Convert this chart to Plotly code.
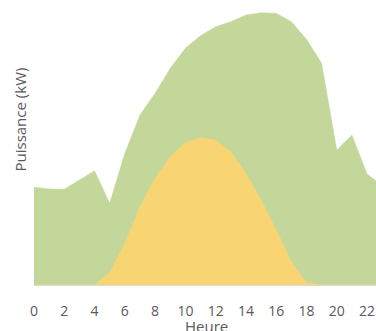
import plotly.graph_objects as go

hours = list(range(24))
consommation = [97.7, 96.0, 95.7, 105.0, 114.3, 81.7, 131.7, 170.0, 191.7, 216.7,
                236.7, 249.3, 258.3, 263.3, 270.0, 272.3, 271.7, 263.3, 245.7, 221.7,
                135.0, 150.0, 111.0, 99.5]
production = [0, 0, 0, 0, 0, 12.3, 41.7, 78.3, 106.7, 128.3,
              142.3, 147.3, 145.0, 133.3, 111.7, 85.0, 55.0, 23.3, 2.3, 0,
              0, 0, 0, 0]
tick_vals = list(range(0, 23, 2))
tick_text = [str(v) for v in tick_vals]

GREEN = "#c4d79b"
YELLOW = "#f8d473"
TEXT = "#595959"
FONT = "Open Sans"

fig = go.Figure()
fig.add_trace(go.Scatter(x=hours, y=consommation, mode="lines", fill="tozeroy",
                         line=dict(color=GREEN, width=0.5), fillcolor=GREEN,
                         showlegend=False, hoverinfo="skip"))
fig.add_trace(go.Scatter(x=hours, y=production, mode="lines", fill="tozeroy",
                         line=dict(color=YELLOW, width=0.5), fillcolor=YELLOW,
                         showlegend=False, hoverinfo="skip"))

W, H = 376, 331
L, R, T, B = 33.5, 0, 0, 46
PW, PH = W - L - R, H - T - B

fig.update_layout(
    width=W, height=H,
    margin=dict(l=L, r=R, t=T, b=B, autoexpand=False, pad=0),
    paper_bgcolor="white", plot_bgcolor="white",
    font=dict(family=FONT, color=TEXT, size=14),
    xaxis=dict(range=[0, (W - L) / 15.16], tickmode="array", tickvals=tick_vals,
               ticktext=tick_text, showgrid=False, zeroline=False, showline=True,
               linecolor="#d9d9d9", linewidth=1, ticks="outside", ticklen=13,
               tickcolor="rgba(0,0,0,0)", automargin=False,
               tickfont=dict(size=14, color=TEXT)),
    yaxis=dict(range=[0, PH], showticklabels=False, showgrid=False, zeroline=False,
               showline=False, ticks="", automargin=False),
    annotations=[
        dict(text="Puissance (kW)", textangle=-90,
             x=(19 - L) / PW, y=(PH - 120) / PH,
             xref="paper", yref="paper", showarrow=False,
             xanchor="center", yanchor="middle", font=dict(size=15, color=TEXT)),
        dict(text="Heure", x=(206 - L) / PW, y=(PH - 326) / PH,
             xref="paper", yref="paper", showarrow=False,
             xanchor="center", yanchor="middle", font=dict(size=15, color=TEXT)),
    ],
)

fig.write_html("out.html", config={"displayModeBar": False},
               post_script="document.body.style.margin='0';"
                           "document.body.style.overflow='hidden';")
